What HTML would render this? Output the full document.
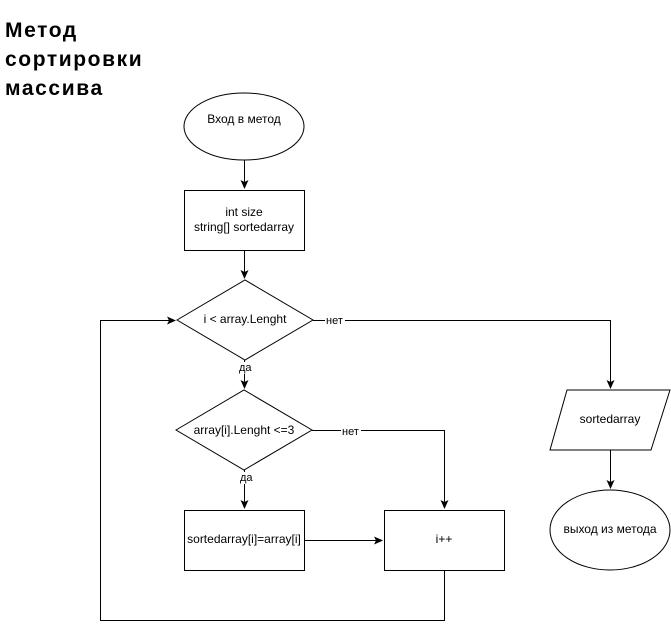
<!DOCTYPE html>
<html><head><meta charset="utf-8"><style>
body{margin:0;background:#fff;width:671px;height:629px;overflow:hidden}
svg{display:block}
text{font-family:"Liberation Sans",sans-serif;fill:#000}
.t{font-size:12px;text-anchor:middle;dominant-baseline:middle}
.l{font-size:11px;dominant-baseline:middle}
.h{font-size:21px;font-weight:bold;letter-spacing:1.6px}
</style></head><body>
<svg width="671" height="629" viewBox="0 0 671 629">
<defs><marker id="a" markerWidth="10" markerHeight="10" refX="8" refY="5" orient="auto" markerUnits="userSpaceOnUse"><path d="M0,1 L9,5 L0,9 L2,5 Z" fill="#000"/></marker></defs>
<text class="h" x="5" y="37">Метод</text>
<text class="h" x="5" y="66">сортировки</text>
<text class="h" x="5" y="95">массива</text>
<g fill="none" stroke="#000" stroke-width="1">
<ellipse cx="244" cy="126.5" rx="60" ry="33.5" fill="#fff"/>
<rect x="184.5" y="190.5" width="120" height="60" fill="#fff"/>
<polygon points="177,320 245,280 313,320 245,360" fill="#fff"/>
<polygon points="176,430 244,390 312,430 244,470" fill="#fff"/>
<rect x="184.5" y="510.5" width="120" height="60" fill="#fff"/>
<rect x="384.5" y="510.5" width="120" height="60" fill="#fff"/>
<polygon points="567,390 670,390 651,450 550,450" fill="#fff"/>
<ellipse cx="610" cy="530" rx="60" ry="40" fill="#fff"/>
<path d="M244.5 160 V188" marker-end="url(#a)"/>
<path d="M244.5 250 V278" marker-end="url(#a)"/>
<path d="M244.5 360 V388" marker-end="url(#a)"/>
<path d="M244.5 470 V508" marker-end="url(#a)"/>
<path d="M305 540.5 H382" marker-end="url(#a)"/>
<path d="M312 430.5 H444.5 V508" marker-end="url(#a)"/>
<path d="M313 320.5 H610.5 V388" marker-end="url(#a)"/>
<path d="M610.5 450 V488" marker-end="url(#a)"/>
<path d="M444.5 570 V620.5 H100.5 V320.5 H175" marker-end="url(#a)"/>
</g>
<rect x="325" y="315" width="20" height="12" fill="#fff"/>
<text class="l" x="326" y="321">нет</text>
<rect x="341" y="426" width="20" height="12" fill="#fff"/>
<text class="l" x="342" y="432">нет</text>
<rect x="238" y="362" width="16" height="12" fill="#fff"/>
<text class="l" x="239" y="368">да</text>
<rect x="239" y="472" width="16" height="12" fill="#fff"/>
<text class="l" x="240" y="478">да</text>
<text class="t" x="244" y="120">Вход в метод</text>
<text class="t" x="244" y="213">int size</text>
<text class="t" x="244" y="228">string[] sortedarray</text>
<text class="t" x="245" y="320">i &lt; array.Lenght</text>
<text class="t" x="244" y="431">array[i].Lenght &lt;=3</text>
<text class="t" x="244" y="540">sortedarray[i]=array[i]</text>
<text class="t" x="444" y="540">i++</text>
<text class="t" x="610" y="420">sortedarray</text>
<text class="t" x="610" y="530">выход из метода</text>
</svg>
</body></html>
